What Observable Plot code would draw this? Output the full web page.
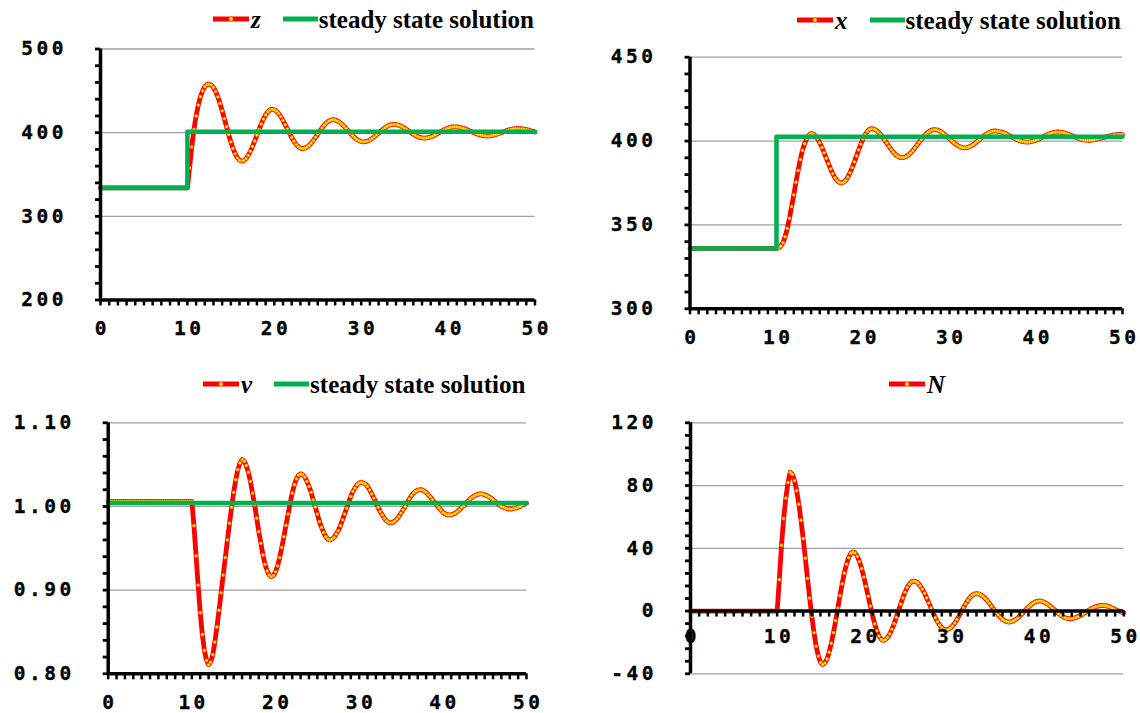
<!DOCTYPE html>
<html><head><meta charset="utf-8">
<script src="https://cdn.jsdelivr.net/npm/d3@7"></script>
<script src="https://cdn.jsdelivr.net/npm/@observablehq/plot@0.6"></script>
<style>
html,body{margin:0;padding:0;background:#fff;}
#root{position:relative;width:1140px;height:713px;overflow:hidden;background:#fff;}
.panel{position:absolute;}
.panel svg{background:transparent !important;overflow:visible;}
.panel svg text{letter-spacing:3.5px;font-weight:bold !important;font-family:"DejaVu Sans Mono",monospace !important;stroke:#000;stroke-width:0.35px;}
.legend{position:absolute;height:30px;display:flex;align-items:center;font-family:"Liberation Serif","Times New Roman",serif;font-weight:bold;font-size:25px;white-space:nowrap;line-height:1;color:#000;}
.legend svg{display:block;}
.legend .var{font-style:italic;margin-left:2px;}
.legend .sst{margin-left:1px;}
</style></head><body><div id="root"></div>
<script>
// ---------- data (sampled every 0.25 time units, t = 0 .. 50) ----------
const zVals = [
334,334,334,334, 334,334,334,334, 334,334,334,334, 334,334,334,334, 334,334,334,334,
334,334,334,334, 334,334,334,334, 334,334,334,334, 334,334,334,334, 334,334,334,334,
334,358,383,404, 420,433,443,450, 455,457.5,458,457, 454,449.2,442.8,435,
426.2,416.8,407.2,397.8, 389,381.2,374.8,370, 367,366,366.8,369.1, 372.8,377.7,383.5,390.1,
397,403.9,410.5,416.3, 421.2,424.9,427.2,428, 427.4,425.7,422.9,419.2, 414.7,409.7,404.5,399.3,
394.3,389.8,386.1,383.3, 381.6,381,381.4,382.7, 384.8,387.5,390.8,394.4, 398.3,402.1,405.7,409,
411.7,413.8,415.1,415.5, 415.2,414.2,412.6,410.5, 408,405.2,402.3,399.3, 396.5,394,391.9,390.3,
389.3,389,389.3,390, 391.3,393,394.9,397.2, 399.5,401.8,404.1,406, 407.7,409,409.7,410,
409.8,409.2,408.2,406.9, 405.3,403.6,401.8,399.9, 398.2,396.6,395.3,394.3, 393.7,393.5,393.7,394.2,
395,396,397.3,398.8, 400.3,401.8,403.2,404.5, 405.5,406.3,406.8,407, 406.9,406.5,405.9,405.2,
404.3,403.2,402.1,400.9, 399.8,398.8,397.8,397.1, 396.5,396.1,396,396.1, 396.5,397,397.7,398.6,
399.5,400.5,401.5,402.5, 403.3,404,404.6,404.9, 405,404.9,404.7,404.2, 403.7,403,402.3,401.5,
400.7];
const xVals = [
336,336,336,336, 336,336,336,336, 336,336,336,336, 336,336,336,336, 336,336,336,336,
336,336,336,336, 336,336,336,336, 336,336,336,336, 336,336,336,336, 336,336,336,336,
336,336.3,337.4,339.5, 343,348,354,361, 368,375.5,382.5,389, 394.5,398.5,401.5,403.5,
404.6,404.2,403.1,401.4, 399,396.2,393.1,389.8, 386.5,383.4,380.6,378.2, 376.5,375.4,375,375.4,
376.6,378.5,381.1,384.2, 387.6,391.2,394.8,398.2, 401.3,403.9,405.8,407, 407.4,407.2,406.5,405.5,
404.1,402.5,400.7,398.8, 396.8,395,393.4,392, 391,390.3,390.1,390.3, 390.8,391.7,392.9,394.3,
395.9,397.6,399.3,401, 402.6,404,405.2,406.1, 406.6,406.8,406.7,406.3, 405.6,404.8,403.7,402.6,
401.4,400.2,399.1,398, 397.2,396.5,396.1,396, 396.1,396.5,397.1,397.9, 398.8,399.9,401,402.1,
403.2,404.1,404.9,405.5, 405.9,406,405.9,405.7, 405.4,404.9,404.4,403.7, 403,402.4,401.7,401,
400.5,400,399.7,399.5, 399.4,399.5,399.7,400.1, 400.5,401.1,401.7,402.4, 403.1,403.7,404.3,404.7,
405.1,405.3,405.4,405.3, 405.2,404.9,404.5,404, 403.5,403,402.4,401.9, 401.4,401,400.7,400.6,
400.5,400.5,400.6,400.8, 401.1,401.4,401.7,402.1, 402.4,402.8,403.1,403.3, 403.7,403.8,404,404,
403.9];
const vVals = [
1.006,1.006,1.006,1.006, 1.006,1.006,1.006,1.006, 1.006,1.006,1.006,1.006, 1.006,1.006,1.006,1.006, 1.006,1.006,1.006,1.006,
1.006,1.006,1.006,1.006, 1.006,1.006,1.006,1.006, 1.006,1.006,1.006,1.006, 1.006,1.006,1.006,1.006, 1.006,1.006,1.006,1.006,
1.006,0.977,0.941,0.906, 0.873,0.847,0.828,0.816, 0.811,0.814,0.823,0.838, 0.856,0.876,0.897,0.918,
0.939,0.960,0.980,0.999, 1.017,1.032,1.044,1.052, 1.056,1.054,1.049,1.041, 1.030,1.016,1.002,0.986,
0.970,0.956,0.942,0.931, 0.923,0.918,0.916,0.9175, 0.922,0.929,0.939,0.951, 0.964,0.9775,0.991,1.004,
1.016,1.026,1.033,1.0375, 1.039,1.038,1.035,1.030, 1.024,1.017,1.008,0.9995, 0.991,0.982,0.975,0.969,
0.964,0.961,0.960,0.961, 0.963,0.967,0.971,0.977, 0.984,0.991,0.998,1.005, 1.012,1.018,1.022,1.026,
1.028,1.029,1.028,1.027, 1.024,1.020,1.015,1.010, 1.005,0.999,0.994,0.990, 0.986,0.983,0.981,0.9805,
0.981,0.9825,0.985,0.988, 0.992,0.996,1.000,1.005, 1.009,1.013,1.016,1.018, 1.0195,1.020,1.020,1.0185,
1.017,1.014,1.0115,1.008, 1.005,1.002,0.9985,0.996, 0.993,0.9915,0.990,0.990, 0.990,0.991,0.992,0.994,
0.996,0.999,1.001,1.004, 1.006,1.009,1.011,1.0125, 1.014,1.0147,1.015,1.015, 1.014,1.013,1.0116,1.010,
1.008,1.006,1.004,1.002, 1.000,0.999,0.998,0.997, 0.997,0.997,0.998,0.998, 0.999,1.000,1.002,1.003,
1.004];
const nVals = [
0,0,0,0, 0,0,0,0, 0,0,0,0, 0,0,0,0, 0,0,0,0,
0,0,0,0, 0,0,0,0, 0,0,0,0, 0,0,0,0, 0,0,0,0,
0,20,42,59, 72,82,88.5,87.2, 83.2,76.8,68.2,57.9, 46.2,33.7,20.9,8.3,
-3.4,-13.7,-22.3,-28.7, -32.7,-34,-33.1,-30.5, -26.2,-20.5,-13.7,-6.1, 1.9,9.8,17.4,24.2,
29.9,34.1,36.8,37.7, 37,34.9,31.6,27.1, 21.7,15.8,9.5,3.2, -2.7,-8.1,-12.6,-15.9,
-18,-18.7,-18.2,-16.8, -14.6,-11.6,-8,-4, 0.2,4.4,8.4,12, 15,17.2,18.6,19.1,
18.8,17.8,16.1,14, 11.4,8.4,5.2,2, -1.2,-4.2,-6.8,-8.9, -10.6,-11.6,-11.9,-11.6,
-10.8,-9.4,-7.6,-5.4, -3,-0.4,2.2,4.6, 6.8,8.6,10,10.8, 11.1,10.9,10.3,9.4,
8.1,6.6,4.9,3, 1.1,-0.8,-2.5,-4, -5.3,-6.2,-6.8,-7, -6.8,-6.3,-5.5,-4.5,
-3.2,-1.8,-0.3,1.2, 2.6,3.9,4.9,5.7, 6.2,6.4,6.3,5.8, 5.2,4.3,3.2,2,
0.8,-0.5,-1.7,-2.8, -3.7,-4.3,-4.8,-4.9, -4.8,-4.5,-4.1,-3.5, -2.8,-2,-1.1,-0.2,
0.7,1.5,2.2,2.8, 3.2,3.5,3.6,3.5, 3.3,2.9,2.4,1.7, 1,0.4,-0.2,-0.7,
-1.1];

// steady state solutions (step at t = 10)
const steadyT = [0, 10, 50];
const zSteady = [334, 401, 401];
const xSteady = [336, 402.5, 402.5];
const vSteady = [1.004, 1.004, 1.004];

// tick values / labels
const xTicks = [0, 10, 20, 30, 40, 50];
const xTickLabels = ["0", "10", "20", "30", "40", "50"];
const zTicks = [200, 300, 400, 500];
const zTickLabels = ["200", "300", "400", "500"];
const xsTicks = [300, 350, 400, 450];
const xsTickLabels = ["300", "350", "400", "450"];
const vTicks = [0.8, 0.9, 1.0, 1.1];
const vTickLabels = ["0.80", "0.90", "1.00", "1.10"];
const nTicks = [-40, 0, 40, 80, 120];
const nTickLabels = ["-40", "0", "40", "80", "120"];

// ---------- drawing ----------
const t = d3.range(0, 50.001, 0.25);
[zVals, xVals, vVals, nVals].forEach((a, i) => { if (a.length !== t.length) console.error("length mismatch", i, a.length); });

const RED = "#ff0000", GREEN = "#00b050", GRID = "#a0a0a0";
const FONT = {fontFamily: "DejaVu Sans Mono", fontSize: 19.5, fontWeight: "bold"};
const xMinor = d3.range(0, 51, 1);
const root = document.getElementById("root");

function panel(cfg) {
  const {left, top, width, height, mL, mR, mT, mB, yDomain, yMajor, yLabels, yMinor, vals, steady, zero} = cfg;
  const data = t.map((tt, i) => ({t: tt, v: vals[i]}));
  const marks = [
    Plot.ruleY(yMajor.filter(d => !(zero && d === 0)), {stroke: GRID, strokeWidth: 1.3}),
  ];
  marks.push(Plot.line(data, {x: "t", y: "v", stroke: RED, strokeWidth: 4.8, strokeLinejoin: "round"}));
  marks.push(Plot.dot(data, {x: "t", y: "v", r: 1.6, fill: "#ffff00", stroke: "#ff5a00", strokeWidth: 0.5}));
  if (steady) {
    const sd = steadyT.map((tt, i) => ({t: tt, v: steady[i]}));
    marks.push(Plot.line(sd, {x: "t", y: "v", stroke: GREEN, strokeWidth: 4.5, curve: "step-after"}));
  }
  // axes
  marks.push(Plot.ruleX([0], {stroke: "#000", strokeWidth: 3.5}));
  marks.push(Plot.axisY({ticks: yMinor, tickSize: 5, strokeWidth: 2.8, stroke: "#000", fill: "none", tickFormat: () => "", label: null}));
  marks.push(Plot.axisY({ticks: yMajor, tickSize: 0, tickPadding: 33.5, fill: "#000", stroke: "none",
    tickFormat: d => yLabels[yMajor.indexOf(d)], label: null, ...FONT}));
  if (!zero) {
    marks.push(Plot.ruleY([yDomain[0]], {stroke: "#000", strokeWidth: 3.5}));
    marks.push(Plot.axisX({ticks: xMinor, tickSize: 6, strokeWidth: 2.5, stroke: "#000", fill: "none", tickFormat: () => "", label: null}));
    marks.push(Plot.axisX({ticks: xTicks, tickSize: 0, tickPadding: 21.3, dx: 1.75, fill: "#000", stroke: "none",
      tickFormat: d => xTickLabels[xTicks.indexOf(d)], label: null, ...FONT}));
  } else {
    const plotH = height - mT - mB;
    const unitsPerPx = (yDomain[1] - yDomain[0]) / plotH;
    marks.push(Plot.ruleY([0], {stroke: "#000", strokeWidth: 3.5}));
    marks.push(Plot.ruleX(xMinor, {y1: 0, y2: -6 * unitsPerPx, stroke: "#000", strokeWidth: 2.5}));
    marks.push(Plot.text(xTicks, {x: d => d, y: 0, dy: 26, dx: 1.75, text: d => xTickLabels[xTicks.indexOf(d)],
      fill: "#000", ...FONT}));
  }
  const svg = Plot.plot({
    width, height, marginLeft: mL, marginRight: mR, marginTop: mT, marginBottom: mB,
    x: {domain: [0, 50], ...(zero ? {axis: null} : {}), label: null},
    y: {domain: yDomain, label: null},
    style: {fontFamily: "DejaVu Sans Mono", fontSize: "19.5px", fontWeight: "bold", background: "transparent", overflow: "visible"},
    marks
  });
  const div = document.createElement("div");
  div.className = "panel";
  div.style.left = left + "px"; div.style.top = top + "px";
  div.style.width = width + "px"; div.style.height = height + "px";
  div.appendChild(svg);
  root.appendChild(div);
}

function legend(left, cy, name, withSteady) {
  const d = document.createElement("div");
  d.className = "legend";
  d.style.left = left + "px"; d.style.top = (cy - 15) + "px";
  let html = `<svg width="36" height="10"><line x1="0" y1="5" x2="36" y2="5" stroke="${RED}" stroke-width="5"/>` +
    `<circle cx="18" cy="5" r="2" fill="#ffff00" stroke="#ff5a00" stroke-width="0.5"/></svg><span class="var">${name}</span>`;
  if (withSteady) {
    html += `<svg width="35" height="10" style="margin-left:22px"><line x1="0" y1="5" x2="35" y2="5" stroke="${GREEN}" stroke-width="5"/></svg>` +
      `<span class="sst">steady state solution</span>`;
  }
  d.innerHTML = html;
  root.appendChild(d);
}

panel({left: 0, top: 0, width: 570, height: 350, mL: 100, mR: 35.5, mT: 48.5, mB: 50.5,
  yDomain: [200, 500], yMajor: zTicks, yLabels: zTickLabels, yMinor: d3.range(200, 501, 20),
  vals: zVals, steady: zSteady, zero: false});
panel({left: 570, top: 0, width: 570, height: 350, mL: 119.5, mR: 18, mT: 56.7, mB: 41.7,
  yDomain: [300, 450], yMajor: xsTicks, yLabels: xsTickLabels, yMinor: d3.range(300, 451, 10),
  vals: xVals, steady: xSteady, zero: false});
panel({left: 0, top: 360, width: 570, height: 353, mL: 107.7, mR: 44, mT: 62.3, mB: 39.7,
  yDomain: [0.8, 1.1], yMajor: vTicks, yLabels: vTickLabels, yMinor: d3.range(0, 16).map(i => 0.8 + i * 0.02),
  vals: vVals, steady: vSteady, zero: false});
panel({left: 570, top: 360, width: 570, height: 353, mL: 120, mR: 16.7, mT: 62.3, mB: 39.7,
  yDomain: [-40, 120], yMajor: nTicks, yLabels: nTickLabels, yMinor: d3.range(-40, 121, 8),
  vals: nVals, steady: null, zero: true});

legend(213, 19, "z", true);
legend(797, 20, "x", true);
legend(203, 384, "v", true);
legend(889, 384, "N", false);
</script></body></html>
